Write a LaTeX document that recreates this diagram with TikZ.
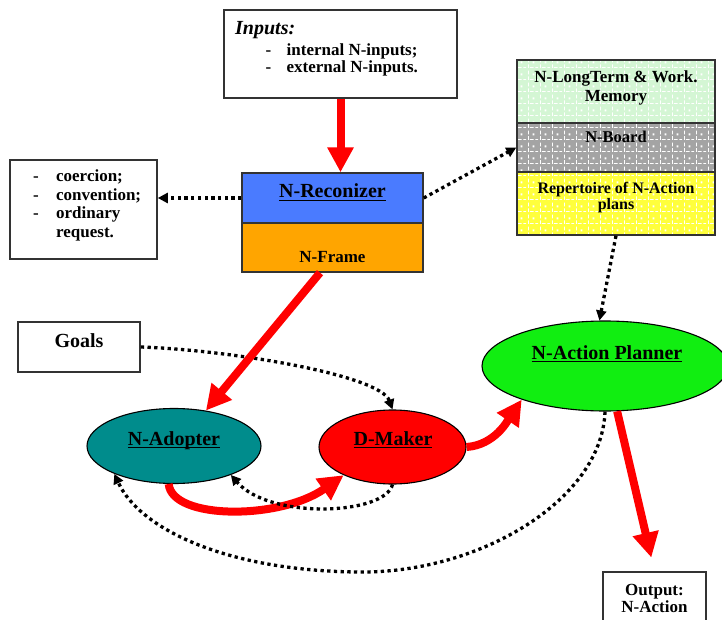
\documentclass[tikz,border=0pt]{standalone}
\usepackage{fontspec}
\setmainfont{Liberation Serif}
\usetikzlibrary{arrows.meta,calc,shapes.geometric,patterns}

\definecolor{reconblue}{HTML}{4A7BFF}
\definecolor{frameorange}{HTML}{FFA500}
\definecolor{adopterteal}{HTML}{008C8C}
\definecolor{makerred}{HTML}{FF0000}
\definecolor{plannergreen}{HTML}{11EE11}
\definecolor{memgreen}{HTML}{D4F6D4}
\definecolor{boardgray}{HTML}{A4A4A4}
\definecolor{planyellow}{HTML}{FFFF3C}
\definecolor{boxline}{HTML}{333333}

% woven texture for the memory layers
\pgfdeclarepatternformonly{weave}{\pgfpointorigin}{\pgfpoint{12pt}{12pt}}{\pgfpoint{12pt}{12pt}}{
  \pgfpathrectangle{\pgfpoint{0pt}{0pt}}{\pgfpoint{1pt}{4pt}}
  \pgfpathrectangle{\pgfpoint{0pt}{6pt}}{\pgfpoint{1pt}{4pt}}
  \pgfpathrectangle{\pgfpoint{2pt}{0pt}}{\pgfpoint{4pt}{1pt}}
  \pgfpathrectangle{\pgfpoint{8pt}{0pt}}{\pgfpoint{3pt}{1pt}}
  \pgfpathrectangle{\pgfpoint{5pt}{5pt}}{\pgfpoint{2pt}{2pt}}
  \pgfusepath{fill}}

% thick underline for the labels
\newcommand{\ulabel}[1]{\setbox0\hbox{#1}\rlap{\rule[-3.2pt]{\wd0}{1.4pt}}\box0}

\begin{document}
\begin{tikzpicture}[x=1pt, y=-1pt,
  plainbox/.style={draw=boxline, line width=1.6pt, fill=white, inner sep=0pt},
  layer/.style={draw=boxline, line width=1.4pt, inner sep=0pt, minimum width=198pt},
  oval/.style={ellipse, draw=black, line width=1.1pt, inner sep=0pt},
  txt/.style={font=\fontsize{17}{18.5}\selectfont\bfseries, inner sep=0pt},
  bigtxt/.style={font=\fontsize{20}{24}\selectfont\bfseries, inner sep=0pt},
  memtxt/.style={font=\fontsize{16.5}{18.3}\selectfont\bfseries, inner sep=0pt},
  redarrow/.style={draw=makerred, line width=8pt, -{Triangle[length=25pt,width=25pt]}},
  dotarrow/.style={draw=black, line width=3.3pt, dash pattern=on 3.3pt off 3.4pt,
    -{Triangle[length=10pt,width=10pt]}}]

\useasboundingbox (0,0) rectangle (722,620);
\fill[white] (0,0) rectangle (722,620);
\clip (0,0) rectangle (722,620);

% ---- boxes ----
\node[plainbox, minimum width=233pt, minimum height=88pt] (inputs) at (340.5,54) {};
\node[txt, anchor=base west, font=\fontsize{20}{24}\selectfont\bfseries\itshape] (inputstitle) at (235,35) {Inputs:};
\node[txt, anchor=base west, font=\fontsize{17}{17.5}\selectfont\bfseries] (inputslist) at (265.5,55.5)
  {\begin{tabular}[t]{@{}l@{\hspace{15.3pt}}l@{}}-&internal N-inputs;\\-&external N-inputs.\end{tabular}};

\node[plainbox, minimum width=147pt, minimum height=99pt] (reqs) at (83.5,209.5) {};
\node[txt, anchor=base west] (reqslist) at (33,182)
  {\begin{tabular}[t]{@{}l@{\hspace{17.3pt}}l@{}}-&coercion;\\-&convention;\\-&ordinary\\&request.\end{tabular}};

\node[draw=boxline, line width=1.4pt, fill=reconblue, inner sep=0pt, minimum width=181pt, minimum height=50pt] (recon) at (332.5,198) {};
\node[draw=boxline, line width=1.4pt, fill=frameorange, inner sep=0pt, minimum width=181pt, minimum height=49pt] (frame) at (332.5,247.5) {};
\node[bigtxt, anchor=base] (reconlbl) at (332.5,198) {\ulabel{N-Reconizer}};
\node[txt, anchor=base] (framelbl) at (332.5,262) {N-Frame};

\node[layer, minimum height=63pt, preaction={fill=memgreen}, preaction={pattern=weave, pattern color=white}] (mem1) at (616,91.5) {};
\node[layer, minimum height=49pt, preaction={fill=boardgray}, preaction={pattern=weave, pattern color=white}] (mem2) at (616,147.5) {};
\node[layer, minimum height=63pt, preaction={fill=planyellow}, preaction={pattern=weave, pattern color=white}] (mem3) at (616,203.5) {};
\node[memtxt, anchor=base, font=\fontsize{17}{18.5}\selectfont\bfseries] (mem1lbl) at (616,83)
  {\begin{tabular}[t]{@{}c@{}}N-LongTerm \& Work.\\Memory\end{tabular}};
\node[memtxt, anchor=base] (mem2lbl) at (616,143) {N-Board};
\node[memtxt, anchor=base, font=\fontsize{16}{16}\selectfont\bfseries] (mem3lbl) at (616,194)
  {\begin{tabular}[t]{@{}c@{}}Repertoire of N-Action\\plans\end{tabular}};

\node[plainbox, minimum width=122pt, minimum height=50pt] (goals) at (79,347) {};
\node[bigtxt, anchor=base] (goalslbl) at (79,347) {Goals};

\node[plainbox, minimum width=103pt, minimum height=56pt] (output) at (654.5,600) {};
\node[txt, anchor=base, font=\fontsize{17}{17}\selectfont\bfseries] (outputlbl) at (654.5,595)
  {\begin{tabular}[t]{@{}c@{}}Output:\\N-Action\end{tabular}};

% ---- ellipses ----
\node[oval, fill=adopterteal, minimum width=174pt, minimum height=75pt] (adopter) at (174,446) {};
\node[oval, fill=makerred, minimum width=147pt, minimum height=74pt] (dmaker) at (392.5,447) {};
\node[oval, fill=plannergreen, minimum width=246pt, minimum height=90pt] (planner) at (605,366) {};
\node[bigtxt, anchor=base] (adopterlbl) at (174,445) {\ulabel{N-Adopter}};
\node[bigtxt, anchor=base] (dmakerlbl) at (393,445) {\ulabel{D-Maker}};
\node[bigtxt, anchor=base] (plannerlbl) at (607,359) {\ulabel{N-Action Planner}};

% ---- dotted connectors ----
\draw[dotarrow] (recon.west) -- (recon.west -| reqs.east);
\draw[dotarrow] (recon.east) -- (mem2.west);
\draw[dotarrow] (mem3.south) -- (planner.97);
\draw[dotarrow] (goals.east) .. controls (230,350) and (380,375) .. (dmaker.north);
\draw[dotarrow] (planner.south) .. controls (602,500) and (480,572) .. (363,572)
  .. controls (230,572) and (140,530) .. (adopter.205);

% ---- red flow ----
\draw[redarrow] (inputs.south) -- (inputs.south |- recon.north);
\draw[redarrow] ($(frame.south)+(-12.5,0)$) -- (adopter.48);
\draw[redarrow] (adopter.262) .. controls (172,520) and (280,520) .. (dmaker.210);
\draw[dotarrow] (dmaker.south) .. controls (385,515) and (270,520) .. (adopter.-27);
\draw[redarrow] (dmaker.east) .. controls (495,445) and (508,420) .. (planner.202);
\draw[redarrow, shorten >=14pt] (planner.-75) -- (output.north);

\end{tikzpicture}
\end{document}
